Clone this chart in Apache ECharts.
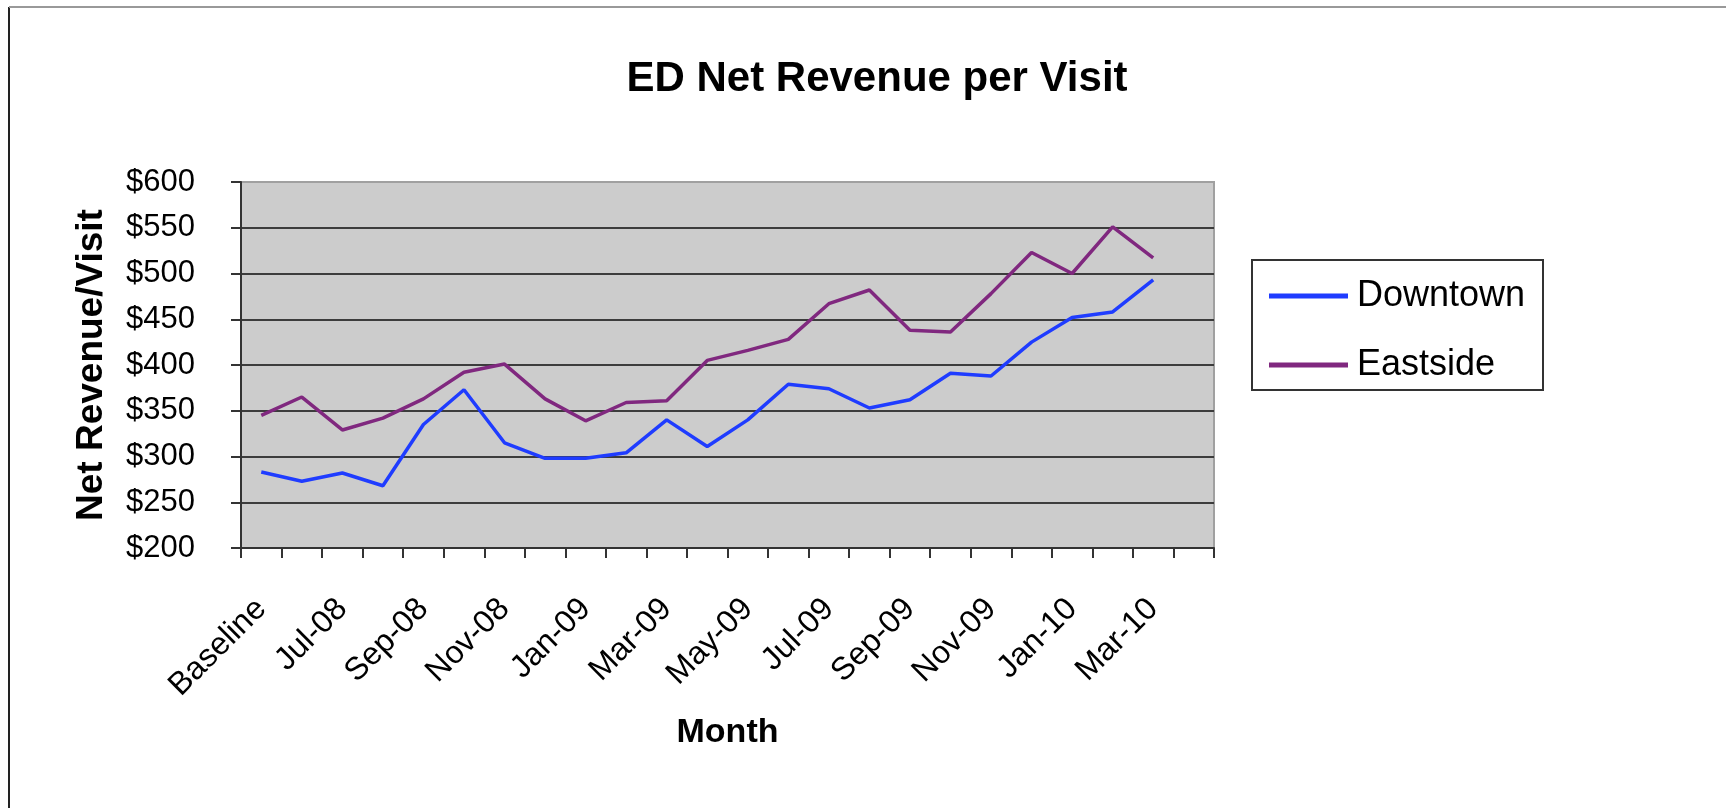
<!DOCTYPE html>
<html>
<head>
<meta charset="utf-8">
<title>ED Net Revenue per Visit</title>
<script src="https://cdn.jsdelivr.net/npm/echarts@6/dist/echarts.min.js"></script>
<style>
  html, body { margin: 0; padding: 0; background: #fff; }
  #revenueChart { width: 1726px; height: 808px; }
</style>
</head>
<body>
<div id="revenueChart"></div>
<script>
// months (last slot is the empty one at the right end of the axis)
const months = ['Baseline', 'Jun-08', 'Jul-08', 'Aug-08', 'Sep-08', 'Oct-08', 'Nov-08', 'Dec-08',
  'Jan-09', 'Feb-09', 'Mar-09', 'Apr-09', 'May-09', 'Jun-09', 'Jul-09', 'Aug-09', 'Sep-09',
  'Oct-09', 'Nov-09', 'Dec-09', 'Jan-10', 'Feb-10', 'Mar-10', ''];

const downtown = [283, 273, 282, 268, 335, 373, 315, 298, 298, 304, 340, 311,
  340, 379, 374, 353, 362, 391, 388, 425, 452, 458, 493];
const eastside = [345, 365, 329, 342, 363, 392, 401, 363, 339, 359, 361, 405,
  416, 428, 467, 482, 438, 436, 478, 523, 500, 551, 517];

const yTicks = [200, 250, 300, 350, 400, 450, 500, 550, 600];

const font = 'Liberation Sans, Arial, sans-serif';

let chartDom = document.getElementById('revenueChart');
let myChart = echarts.init(chartDom, null, {renderer: 'canvas'});
let option;

option = {
  animation: false,
  backgroundColor: '#fff',
  title: {
    text: 'ED Net Revenue per Visit',
    left: 872,
    textAlign: 'center',
    top: 53,
    textStyle: {fontFamily: font, fontSize: 42, fontWeight: 'bold', color: '#000'}
  },
  legend: {
    orient: 'vertical',
    left: 1269,
    top: 274,
    padding: 0,
    itemGap: 25,
    itemWidth: 79,
    itemHeight: 5,
    icon: 'rect',
    textStyle: {fontFamily: font, fontSize: 36, color: '#000', lineHeight: 40, padding: [4, 0, 0, 4]},
    data: ['Downtown', 'Eastside']
  },
  grid: {
    left: 241,
    top: 182,
    width: 973,
    height: 366,
    show: true,
    backgroundColor: '#cccccc',
    borderColor: '#a0a0a0',
    borderWidth: 2,
    containLabel: false,
    outerBoundsMode: 'none'
  },
  xAxis: {
    type: 'category',
    data: months,
    boundaryGap: true,
    name: 'Month',
    nameLocation: 'middle',
    nameGap: 168,
    nameTextStyle: {fontFamily: font, fontSize: 34, fontWeight: 'bold', color: '#000'},
    axisLine: {lineStyle: {color: '#333', width: 2}},
    axisTick: {show: true, interval: 0, length: 10, lineStyle: {color: '#333', width: 2}},
    axisLabel: {
      interval: 1,
      rotate: 45,
      margin: 56,
      fontFamily: font,
      fontSize: 32,
      color: '#000'
    },
    splitLine: {show: false}
  },
  yAxis: {
    type: 'value',
    min: yTicks[0],
    max: yTicks[yTicks.length - 1],
    interval: yTicks[1] - yTicks[0],
    name: 'Net Revenue/Visit',
    nameLocation: 'middle',
    nameRotate: 90,
    nameGap: 131,
    nameTextStyle: {fontFamily: font, fontSize: 37, fontWeight: 'bold', color: '#000'},
    axisLine: {show: true, lineStyle: {color: '#333', width: 2}},
    axisTick: {show: true, length: 10, lineStyle: {color: '#333', width: 2}},
    axisLabel: {
      margin: 46,
      fontFamily: font,
      fontSize: 31,
      color: '#000',
      formatter: function (v) { return '$' + v; }
    },
    splitLine: {show: true, showMaxLine: false, lineStyle: {color: '#3c3c3c', width: 2}}
  },
  graphic: [
    // outer frame, left and top edges only (the rest is cut off)
    {type: 'line', shape: {x1: 9, y1: 7, x2: 9, y2: 808}, style: {stroke: '#222', lineWidth: 2}},
    {type: 'line', shape: {x1: 9, y1: 7, x2: 1726, y2: 7}, style: {stroke: '#999', lineWidth: 2}},
    // legend box
    {type: 'rect', z: -1, shape: {x: 1252, y: 260, width: 291, height: 130},
      style: {fill: '#fff', stroke: '#333', lineWidth: 2}}
  ],
  series: [
    {
      name: 'Downtown',
      type: 'line',
      data: downtown,
      showSymbol: false,
      symbol: 'none',
      lineStyle: {color: '#1f3cff', width: 3.5},
      itemStyle: {color: '#1f3cff'}
    },
    {
      name: 'Eastside',
      type: 'line',
      data: eastside,
      showSymbol: false,
      symbol: 'none',
      lineStyle: {color: '#80287f', width: 3.5},
      itemStyle: {color: '#80287f'}
    }
  ]
};

option && myChart.setOption(option);
</script>
</body>
</html>
